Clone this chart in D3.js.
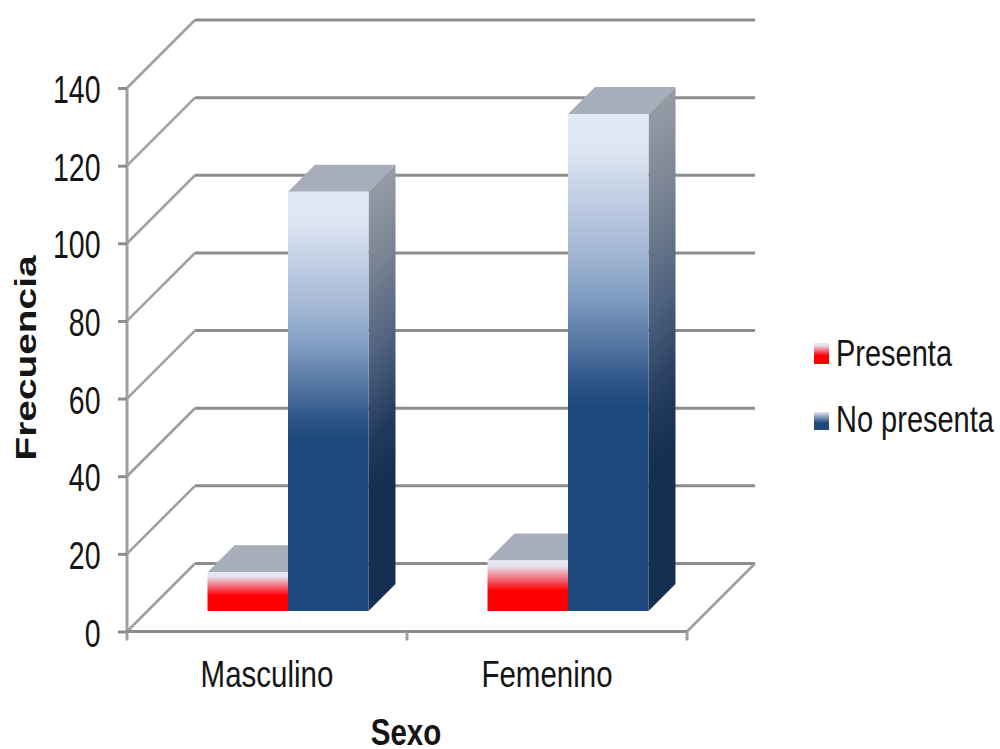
<!DOCTYPE html>
<html>
<head>
<meta charset="utf-8">
<style>
html,body{margin:0;padding:0;background:#fff;}
svg{display:block;}
text{font-family:"Liberation Sans",Arial,sans-serif;fill:#151515;}
</style>
<script src="https://cdn.jsdelivr.net/npm/d3@7"></script>
</head>
<body>
<script>
// Chart values
const categories = ["Masculino", "Femenino"];
const seriesNames = ["Presenta", "No presenta"];
const presenta = [10, 13];
const noPresenta = [108, 128];
const valueTicks = [0, 20, 40, 60, 80, 100, 120, 140];
const xTitle = "Sexo";
const yTitle = "Frecuencia";

const W = 1000, H = 749;
const svg = d3.select("body").append("svg").attr("width", W).attr("height", H);
const defs = svg.append("defs");

const y = d3.scaleLinear().domain([0, 140]).range([631.5, 88]);
const x = d3.scaleBand().domain(categories).range([127, 687]);
const series = d3.scaleBand().domain(seriesNames).range([80.5, 241.5]);

const wallDepth = 68;   // depth of the chart box in the oblique projection
const barInset = 20.5;  // bars stand this far behind the front edge of the floor
const barDepth = 27;    // receding depth of every bar
const gridColor = "#8c8c8c";
const edgeColor = "#a0a0a0";

const sideStops = [[0, "#969ca6"], [0.2, "#778292"], [0.4, "#4f627f"], [0.6, "#223a5c"], [0.72, "#152f52"], [1, "#152f52"]];

function gradient(id, stops) {
  const g = defs.append("linearGradient").attr("id", id)
    .attr("x1", 0).attr("y1", 0).attr("x2", 0).attr("y2", 1);
  stops.forEach(([o, c]) => g.append("stop").attr("offset", o).attr("stop-color", c));
}
gradient("frontBlue", [[0, "#e2e9f6"], [0.07, "#dee6f3"], [0.12, "#cfdaea"], [0.2, "#b9c8e0"], [0.28, "#a3b6d3"], [0.36, "#83a0c4"], [0.43, "#6383ac"], [0.5, "#426796"], [0.55, "#2a5184"], [0.59, "#1f497d"], [1, "#1f497d"]]);
gradient("frontRed", [[0, "#e6e8f4"], [0.12, "#e6e0ea"], [0.45, "#f6434f"], [0.6, "#ff0000"], [1, "#ff0000"]]);
gradient("legendBlue", [[0, "#dfe6f3"], [0.6, "#1f497d"], [1, "#1f497d"]]);

// Back wall lines are heavier than the receding lines on the side wall
const wall = svg.append("g").attr("fill", "none").attr("stroke", gridColor).attr("stroke-width", 3);
wall.selectAll("line").data(valueTicks).join("line")
  .attr("x1", 127 + wallDepth).attr("x2", 687 + wallDepth)
  .attr("y1", v => y(v) - wallDepth).attr("y2", v => y(v) - wallDepth);
const side = svg.append("g").attr("fill", "none").attr("stroke", edgeColor).attr("stroke-width", 2.6);
side.selectAll("line").data(valueTicks).join("line")
  .attr("x1", 127).attr("x2", 127 + wallDepth)
  .attr("y1", v => y(v)).attr("y2", v => y(v) - wallDepth);
// Right edge of the floor
side.append("line")
  .attr("x1", 687).attr("y1", y(0)).attr("x2", 687 + wallDepth).attr("y2", y(0) - wallDepth);

// Axes
const leftAxis = svg.append("g").attr("transform", "translate(127,0)")
  .call(d3.axisLeft(y).tickValues(valueTicks).tickSize(9).tickFormat(""));
const bottomAxis = svg.append("g").attr("transform", `translate(0,${y(0)})`)
  .call(d3.axisBottom(x).tickSize(0).tickFormat(""));
[leftAxis, bottomAxis].forEach(a => {
  a.selectAll("path").attr("stroke", edgeColor).attr("stroke-width", 3);
  a.selectAll(".tick line").attr("stroke", gridColor).attr("stroke-width", 3);
});
leftAxis.select("path.domain").attr("d", `M0,${y(140) - 1}V${y(0) + 9}`);
bottomAxis.select("path.domain").attr("stroke", gridColor).attr("d", `M${x.range()[0]},0H${x.range()[1]}`);

// Category separators below the axis
svg.append("g").selectAll("line").data([x(categories[1]), 687]).join("line")
  .attr("x1", d => d).attr("x2", d => d).attr("y1", y(0)).attr("y2", y(0) + 9)
  .attr("stroke", edgeColor).attr("stroke-width", 3);

// Bars: red first so the taller blue one overlaps it. The side face shades along
// the direction of its slant, so each bar gets its own gradient in page units.
function drawBar(g, id, x0, x1, value, front) {
  const base = y(0) - barInset, top = y(value) - barInset, d = barDepth;
  g.append("path").attr("fill", "#a7aeb9")
    .attr("d", d3.line()([[x0, top], [x0 + d, top - d], [x1 + d, top - d], [x1, top]]) + "Z");
  if (front === "frontBlue") {
    const h = base - top;
    const lg = defs.append("linearGradient").attr("id", id)
      .attr("gradientUnits", "userSpaceOnUse")
      .attr("x1", x1).attr("y1", top).attr("x2", x1 + h / 2).attr("y2", top + h / 2);
    sideStops.forEach(([o, c]) => lg.append("stop").attr("offset", o).attr("stop-color", c));
    g.append("path").attr("fill", `url(#${id})`)
      .attr("d", d3.line()([[x1, top], [x1 + d, top - d], [x1 + d, base - d], [x1, base]]) + "Z");
  }
  g.append("rect").attr("x", x0).attr("y", top).attr("width", x1 - x0).attr("height", base - top)
    .attr("fill", `url(#${front})`);
}
categories.forEach((c, i) => {
  const g = svg.append("g").attr("class", "bars");
  const start = x(c);
  drawBar(g, `sideP${i}`, start + series("Presenta"), start + series("Presenta") + series.bandwidth(), presenta[i], "frontRed");
  drawBar(g, `sideN${i}`, start + series("No presenta"), start + series("No presenta") + series.bandwidth(), noPresenta[i], "frontBlue");
});

// All lettering in this chart is drawn taller than its natural proportions
function stretched(parent, str, px, py, size, sy, anchor, bold, rotate) {
  const t = rotate
    ? `translate(${px},${py}) rotate(-90) scale(${sy},1)`
    : `translate(${px},${py}) scale(1,${sy})`;
  return parent.append("text").attr("transform", t).attr("text-anchor", anchor)
    .attr("font-size", size).attr("font-weight", bold ? 700 : 400).text(str);
}
const labels = svg.append("g");
valueTicks.forEach(v => stretched(labels, d3.format("d")(v), 100.5, y(v) + 15, 28.5, 1.34, "end", false));
stretched(labels, categories[0], 267, 687, 29.5, 1.26, "middle", false);
stretched(labels, categories[1], 547, 687, 29.5, 1.26, "middle", false);
stretched(labels, xTitle, 406, 745, 29.5, 1.28, "middle", true);
stretched(labels, yTitle, 36, 358, 29, 1.34, "middle", true, true);

// Legend
const legendY = [343, 412];
const legendFill = ["url(#frontRed)", "url(#legendBlue)"];
const legendBase = [366, 432];
seriesNames.forEach((name, i) => {
  svg.append("rect").attr("x", 814).attr("y", legendY[i]).attr("width", 15).attr("height", i === 0 ? 21 : 18)
    .attr("fill", legendFill[i]);
  stretched(svg, name, 836, legendBase[i], 29, 1.26, "start", false);
});
</script>
</body>
</html>
